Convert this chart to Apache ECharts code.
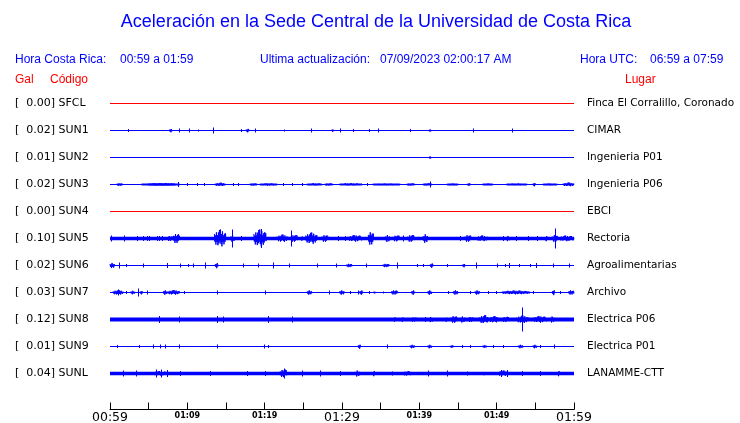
<!DOCTYPE html>
<html><head><meta charset="utf-8">
<script src="https://cdn.jsdelivr.net/npm/echarts@6/dist/echarts.min.js"></script>
<style>html,body{margin:0;padding:0;background:#fff}#c{width:740px;height:423px}</style>
</head><body><div id="c"></div>
<script>
// ---- data ----
const stations = ['SFCL','SUN1','SUN2','SUN3','SUN4','SUN5','SUN6','SUN7','SUN8','SUN9','SUNL'];
const galValues = [0.00,0.02,0.01,0.02,0.00,0.10,0.02,0.03,0.12,0.01,0.04];
const places = ['Finca El Corralillo, Coronado','CIMAR','Ingenieria P01','Ingenieria P06','EBCI','Rectoria','Agroalimentarias','Archivo','Electrica P06','Electrica P01','LANAMME-CTT'];
const timeLabels = ['00:59','01:09','01:19','01:29','01:39','01:49','01:59']; // every 10 minutes
const majorMinutes = [0,30,60];
const titleText = 'Aceleración en la Sede Central de la Universidad de Costa Rica';
const localRange = '00:59 a 01:59';
const utcRange = '06:59 a 07:59';
const lastUpdate = '07/09/2023 02:00:17 AM';

// events per station: [startMinute, endMinute, relative amplitude]; start==end -> single spike
const evSUN1 = [[2.3,2.3,1.5],[7.7,8.0,2],[8.9,8.9,2],[10.2,10.2,2],[11.4,11.4,1],[13.3,13.3,3],[16.9,16.9,1.5],[17.6,18.0,2],[18.8,18.8,2],[22.5,22.5,1],[26.0,26.0,2],[28.7,28.9,2],[29.7,29.7,2],[31.4,31.4,1.5],[33.5,33.5,1.5],[34.7,34.7,2],[38.8,38.8,1.5],[41.3,41.5,2],[47.0,47.0,2],[52.0,52.0,2]];
const evSUN2 = [[41.3,41.5,2]];
const evSUN3 = [[0.9,1.6,1.5],[4.1,9.0,1.1],[5.0,8.4,1.3],[8.8,8.8,2.5],[10.0,10.0,1.5],[11.2,11.2,1.5],[12.2,12.2,1.5],[13.6,14.9,1.8],[15.9,15.9,1.5],[16.5,16.5,1.5],[18.1,19.0,1.3],[19.4,21.6,1.3],[22.4,22.4,1.5],[23.5,23.5,1.5],[24.8,24.8,1.5],[25.5,27.4,1.3],[27.8,28.8,1.3],[29.7,32.6,1.3],[33.2,33.2,1.5],[34.0,37.5,1.1],[38.4,39.4,1.3],[40.5,41.6,1.3],[41.4,41.4,3],[43.6,45.0,1.1],[46.2,46.6,1.5],[48.2,49.5,1.1],[51.3,53.9,1.1],[54.7,55.0,2],[56.0,57.8,1.1],[58.6,60,2]];
const evSUN5 = [[0.1,0.1,3],[1.8,1.8,3],[3.5,3.5,2.5],[4.3,4.3,2.5],[4.8,4.8,2.5],[5.0,5.0,2.5],[6.1,6.1,2.5],[6.3,6.3,2.5],[6.7,6.7,2.5],[7.4,8.1,3],[8.2,9.0,5.5],[13.5,15.0,9],[15.8,15.8,9],[15.6,16.1,4],[17.0,17.0,2.5],[18.6,20.2,9],[19.5,19.5,9.5],[21.6,23.0,4],[23.4,23.4,8],[23.4,24.3,4],[24.6,25.0,2.5],[25.3,26.8,6],[27.4,28.2,4],[29.5,29.5,2.5],[30.4,30.4,2.5],[30.8,32.6,3.5],[33.4,34.1,7.5],[35.6,36.2,4],[36.6,37.5,3.5],[37.9,37.9,3],[38.5,39.4,4],[40.5,41.1,5],[45.3,45.3,2.5],[45.9,46.7,4],[47.4,48.9,3],[50.8,50.8,2.5],[51.2,51.7,3],[52.5,52.5,2.5],[54.1,54.1,2.5],[55.2,55.2,2.5],[56.2,56.6,3],[57.2,57.9,4],[57.5,57.5,10],[58.1,60,3]];
const evSUN6 = [[0.0,0.6,3],[1.2,1.2,3],[2.1,2.1,1.5],[4.3,4.3,2],[7.4,7.4,2.5],[9.1,9.1,2],[10.1,10.1,1.5],[10.7,10.7,2],[12.3,12.3,3],[13.6,14.0,3],[17.2,17.2,2],[19.1,19.1,2],[21.1,21.1,3],[23.1,23.1,2],[26.8,26.8,2],[29.2,29.2,2],[30.6,31.3,2],[33.1,33.1,2],[35.3,36.1,2],[37.1,37.1,3],[39.7,39.7,1.5],[40.5,40.5,1.5],[41.4,41.8,2.5],[43.6,43.6,1.5],[45.6,45.9,2],[47.3,47.3,3],[50.0,50.0,2],[51.1,51.1,1.5],[51.6,51.6,2.5],[52.9,52.9,1.5],[54.3,54.3,1.5],[55.1,55.1,2.5],[57.3,57.3,2],[59.4,59.4,2]];
const evSUN7 = [[0.4,1.7,2.5],[1.0,1.0,3],[2.1,2.1,1.5],[2.7,3.2,2],[3.6,3.6,4],[3.9,4.2,2],[4.8,4.8,2],[6.9,7.4,2.5],[7.5,9.0,2.5],[9.6,9.6,1.5],[13.8,13.8,2],[20.0,20.0,2],[25.5,26.1,2.5],[28.3,28.3,2],[29.7,30.3,2.5],[31.0,31.0,1.5],[32.1,32.1,2],[32.3,32.7,2.5],[33.5,33.5,1.5],[34.1,34.3,1.5],[35.3,35.3,1],[36.4,37.2,2.5],[39.0,39.4,2.5],[41.1,41.6,2.5],[43.7,43.7,1.5],[44.4,45.0,2.5],[46.5,46.5,1.5],[47.2,47.8,2.5],[48.9,48.9,1.5],[49.9,49.9,1.5],[50.7,54.3,2],[54.7,54.7,1.5],[57.2,57.5,3],[58.2,58.2,1.5],[59.3,60,2.5]];
const evSUN8 = [[6.3,6.3,3.5],[8.9,8.9,3],[13.8,13.8,3.5],[14.6,14.6,3],[20.4,20.4,3.5],[23.5,23.5,3],[36.6,37.1,2.5],[37.6,38.0,2.5],[38.9,39.7,2.5],[40.7,40.7,2.5],[41.2,41.8,3],[43.3,43.6,2.5],[44.1,44.9,4],[45.3,45.9,3.5],[46.3,47.0,3],[47.8,48.9,4.5],[49.0,50.3,3.5],[50.7,51.7,3],[52.6,54.1,4],[53.3,53.3,12],[54.7,56.5,3.5],[56.9,57.5,3.5]];
const evSUN9 = [[0.9,0.9,1.5],[3.8,3.8,1.5],[5.6,5.6,2],[6.5,6.5,2],[7.1,7.1,2],[8.9,8.9,2],[13.8,13.8,2],[19.9,19.9,2],[20.4,20.4,1.5],[32.1,32.4,2.5],[35.8,35.8,2],[38.8,39.4,2],[41.1,41.6,2],[44.0,44.4,1.5],[45.5,45.5,1.5],[46.5,46.5,1.5],[48.2,48.7,1.5],[49.5,49.5,1.5],[50.8,50.8,1.5],[52.8,53.4,2],[54.7,55.2,2],[55.6,55.6,1.5],[57.4,57.4,2]];
const evSUNL = [[1.7,1.7,3],[3.4,3.4,3],[5.6,7.3,2.5],[6.0,6.0,4],[6.6,6.6,4],[7.4,7.4,3.5],[9.1,9.1,2.5],[12.9,12.9,2.5],[17.7,17.7,2.5],[20.1,20.1,2.5],[22.0,22.9,4.5],[22.5,22.5,5],[24.8,24.8,3],[27.2,27.2,3],[29.7,29.7,2.5],[31.7,32.3,3.5],[33.9,34.3,3],[36.5,36.5,2],[37.9,39.0,2.5],[41.1,41.1,3],[43.6,43.6,3],[46.2,46.2,2],[48.3,48.5,3],[50.2,51.4,3],[50.5,50.5,3.5],[51.3,51.3,3.5],[53.3,53.3,2.5],[55.6,55.6,2.5],[57.8,58.2,3]];
const stationEvents = [[],evSUN1,evSUN2,evSUN3,[],evSUN5,evSUN6,evSUN7,evSUN8,evSUN9,evSUNL];

// ---- styles ----
const traceColors = ['#ff0000','#0000ff','#0000ff','#0000ff','#ff0000','#0000ff','#0000ff','#0000ff','#0000ff','#0000ff','#0000ff'];
const baseWidths = [1,1,1,1,1,3.5,1,1,4,1,3.5];
const ampPerTrace = 27; // relative amplitude units per trace spacing
const wigglePattern = [1,0.6,0.5,0.9,0.85,0.45,0.4,0.8,0.7,0.55,0.95,0.35];

const chart = echarts.init(document.getElementById('c'), null, {renderer:'canvas'});

const eventData = [];
stationEvents.forEach((list, i) => list.forEach(e => eventData.push([i, e[0], e[1], e[2]])));

const series = stations.map((s, i) => ({
  type:'line', name:s, yAxisIndex:0, symbol:'none', silent:true, animation:false,
  data:[[0,i],[60,i]],
  lineStyle:{color:traceColors[i], width:baseWidths[i]}, z:2
}));
series.push({
  type:'custom', yAxisIndex:0, animation:false, silent:true, z:3,
  encode:{x:[1,2], y:0},
  data:eventData,
  renderItem(params, api){
    const st = api.value(0), s = api.value(1), e = api.value(2), a = api.value(3) / ampPerTrace;
    const color = traceColors[st];
    const p0 = api.coord([s, st]);
    const pTop = api.coord([s, st - a]);
    const p1 = api.coord([e, st]);
    const y = p0[1];
    const h = Math.abs(y - pTop[1]);
    if (e - s < 0.05) {
      const xs = Math.round(p0[0]) + 0.5;
      return {type:'line', shape:{x1:xs, y1:y-h, x2:xs, y2:y+h}, style:{stroke:color, lineWidth:1}};
    }
    const x0 = p0[0], w = p1[0] - x0;
    const n = Math.max(2, Math.round(w / 0.5));
    const pts = [];
    for (let j = 0; j <= n; j++) {
      const t = j / n;
      const env = Math.pow(Math.sin(Math.PI * (0.08 + 0.84 * t)), 0.5);
      const hh = Math.max(0.8, h * env * wigglePattern[j % wigglePattern.length]);
      pts.push([x0 + t * w, y + (j % 2 ? hh : -hh)]);
    }
    return {type:'polyline', shape:{points:pts}, style:{stroke:color, lineWidth:1, fill:null}};
  }
});

const labelFont = 'DejaVu Sans';
function isIdx(v){ const k = Math.round(v); return Math.abs(v-k) < 1e-6 && k >= 0 && k < stations.length ? k : -1; }

const txt = (text, x, y, color, size, extra) => Object.assign({type:'text', x, y, silent:true,
  style:Object.assign({text, fill:color, font:`${size}px "Liberation Sans", Arial, sans-serif`, textVerticalAlign:'middle'}, extra||{})});

chart.setOption({
  animation:false,
  backgroundColor:'#ffffff',
  grid:{left:110, right:166, top:76.5, bottom:13.5, containLabel:false, outerBoundsMode:'none'},
  xAxis:{
    type:'value', min:0, max:60, interval:5, position:'bottom',
    axisLine:{show:true, onZero:false, lineStyle:{color:'#000', width:1}},
    axisTick:{show:true, inside:true, length:7, lineStyle:{color:'#000', width:1}},
    splitLine:{show:false},
    axisLabel:{
      show:true, margin:2, showMinLabel:true, showMaxLabel:true, hideOverlap:false,
      formatter(v){
        const k = Math.round(v);
        if (k % 10 !== 0) return '';
        const lab = timeLabels[k/10];
        return majorMinutes.includes(k) ? '{b|'+lab+'}' : '{s|'+lab+'}';
      },
      rich:{
        b:{fontSize:12.5, fontFamily:labelFont, color:'#000', lineHeight:13},
        s:{fontSize:8, fontWeight:'bold', fontFamily:labelFont, color:'#000', lineHeight:9}
      }
    }
  },
  yAxis:[{
    type:'value', inverse:true, min:-1, max:11.3333, interval:1, position:'left',
    axisLine:{show:false}, axisTick:{show:false}, splitLine:{show:false},
    axisLabel:{show:true, align:'left', margin:95, color:'#000', fontFamily:labelFont, fontSize:11,
      showMinLabel:true, showMaxLabel:true,
      formatter(v){ const k = isIdx(v); return k < 0 ? '' : '[  ' + galValues[k].toFixed(2) + '] ' + stations[k]; }}
  },{
    type:'value', inverse:true, min:-1, max:11.3333, interval:1, position:'right',
    axisLine:{show:false}, axisTick:{show:false}, splitLine:{show:false},
    axisLabel:{show:true, align:'left', margin:13, color:'#000', fontFamily:labelFont, fontSize:10.5,
      showMinLabel:true, showMaxLabel:true,
      formatter(v){ const k = isIdx(v); return k < 0 ? '' : places[k]; }}
  }],
  graphic:[
    txt(titleText, 376, 22, '#0000ff', 18, {textAlign:'center'}),
    txt('Hora Costa Rica:', 15, 60, '#0000ff', 12),
    txt(localRange, 120, 60, '#0000ff', 12),
    txt('Ultima actualización:', 260, 60, '#0000ff', 12),
    txt(lastUpdate, 380, 60, '#0000ff', 12),
    txt('Hora UTC:', 580, 60, '#0000ff', 12),
    txt(utcRange, 650, 60, '#0000ff', 12),
    txt('Gal', 15, 80, '#ff0000', 12),
    txt('Código', 50, 80, '#ff0000', 12),
    txt('Lugar', 625, 80, '#ff0000', 12)
  ],
  series
});
</script></body></html>
